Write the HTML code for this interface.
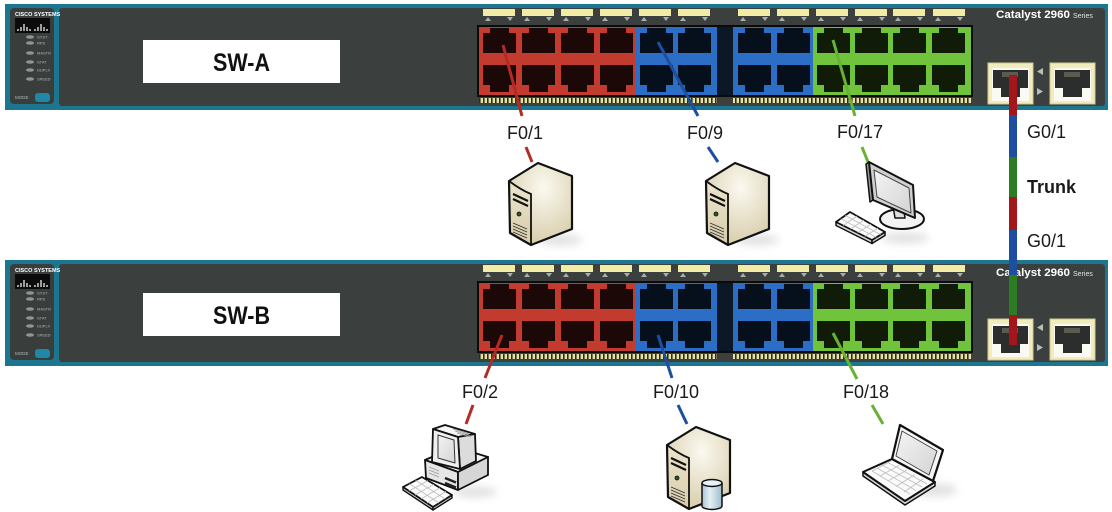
<!DOCTYPE html>
<html><head><meta charset="utf-8"><style>
html,body{margin:0;padding:0;background:#fff;}
svg{display:block}
text{font-family:"Liberation Sans",sans-serif}
</style></head><body>
<svg width="1112" height="512" viewBox="0 0 1112 512" xmlns="http://www.w3.org/2000/svg">
<defs>
 <pattern id="comb" width="4" height="6" patternUnits="userSpaceOnUse"><rect width="4" height="6" fill="#2a2a22"/><rect x="0.6" width="2.4" height="6" fill="#e8e2a2"/></pattern>
 <radialGradient id="srvG" cx="0.55" cy="0.3" r="0.8"><stop offset="0" stop-color="#fbf9f0"/><stop offset="1" stop-color="#d3c8a3"/></radialGradient>
 <linearGradient id="srvF" x1="0" y1="0" x2="0" y2="1"><stop offset="0" stop-color="#ece5cd"/><stop offset="1" stop-color="#d8cdaa"/></linearGradient>
 <linearGradient id="cyl" x1="0" y1="0" x2="1" y2="0"><stop offset="0" stop-color="#a9c4d4"/><stop offset="0.4" stop-color="#e4eff5"/><stop offset="1" stop-color="#9fbccd"/></linearGradient>
 <linearGradient id="scr" x1="0" y1="0" x2="1" y2="1"><stop offset="0" stop-color="#f4f4f4"/><stop offset="1" stop-color="#d4d4d4"/></linearGradient>
 <filter id="blur" x="-50%" y="-50%" width="200%" height="200%"><feGaussianBlur stdDeviation="4"/></filter>
 <path id="pt" d="M7,0H26V5H33V25H0V5H7Z" fill="#000" fill-opacity=".86"/>
 <path id="pb" d="M0,0H33V20H26V27H7V20H0Z" fill="#000" fill-opacity=".86"/>
 <g id="tab">
  <rect x="0" y="5" width="32" height="7" fill="#f1eca3"/>
  <path d="M2,17L5,13L8,17Z M24,13L30,13L27,17Z" fill="#a9aeae"/>
 </g>
 <g id="upl">
  <rect x="0" y="59" width="45" height="41" fill="#f1ecbb" stroke="#cfc894" stroke-width="1"/>
  <rect x="4" y="64" width="37" height="33" fill="#fbfaf2"/>
  <path d="M5,66H40V84H32V93H13V84H5Z" fill="#2c2e2e"/>
  <path d="M15,68v5M17,68v5M19,68v5M21,68v5M23,68v5M25,68v5M27,68v5M29,68v5" stroke="#8a8870" stroke-width="1"/>
 </g>
 <g id="sw">
  <rect x="5" y="0" width="1103" height="106" fill="#1d7690"/>
  <rect x="10" y="4" width="44" height="96" rx="4" fill="#393e3d"/>
  <rect x="59" y="4" width="1046" height="98" rx="3" fill="#3b3f3e"/>
  <rect x="15" y="14" width="35" height="15" fill="#0c0c0c"/>
  <path d="M18,27v-2M21,27v-4M24,27v-7M27,27v-4M30,27v-2M35,27v-2M38,27v-4M41,27v-7M44,27v-4M47,27v-2" stroke="#fff" stroke-width="1.2"/>
  <g fill="#8d9595">
   <ellipse cx="30" cy="33" rx="4" ry="1.8"/><ellipse cx="30" cy="39" rx="4" ry="1.8"/>
   <ellipse cx="30" cy="49" rx="4" ry="1.8"/><ellipse cx="30" cy="58" rx="4" ry="1.8"/>
   <ellipse cx="30" cy="66" rx="4" ry="1.8"/><ellipse cx="30" cy="75" rx="4" ry="1.8"/>
  </g>
  <rect x="35" y="89" width="15" height="9" rx="3" fill="#1f88a6"/>
  <!-- port area -->
  <rect x="477" y="21" width="496" height="72" fill="#0b0b0b"/>
  <rect x="479" y="23" width="156" height="68" fill="#c23b2e"/>
  <rect x="635" y="23" width="82" height="68" fill="#2c6ec6"/>
  <rect x="717" y="23" width="16" height="68" fill="#0c1826"/>
  <rect x="733" y="23" width="80" height="68" fill="#2c6ec6"/>
  <rect x="813" y="23" width="158" height="68" fill="#6fc43c"/>
  <use href="#pt" x="483" y="24"/><use href="#pt" x="522" y="24"/><use href="#pt" x="561" y="24"/><use href="#pt" x="600" y="24"/>
  <use href="#pt" x="640" y="24"/><use href="#pt" x="678" y="24"/><use href="#pt" x="738" y="24"/><use href="#pt" x="777" y="24"/>
  <use href="#pt" x="817" y="24"/><use href="#pt" x="855" y="24"/><use href="#pt" x="893" y="24"/><use href="#pt" x="932" y="24"/>
  <use href="#pb" x="483" y="61"/><use href="#pb" x="522" y="61"/><use href="#pb" x="561" y="61"/><use href="#pb" x="600" y="61"/>
  <use href="#pb" x="640" y="61"/><use href="#pb" x="678" y="61"/><use href="#pb" x="738" y="61"/><use href="#pb" x="777" y="61"/>
  <use href="#pb" x="817" y="61"/><use href="#pb" x="855" y="61"/><use href="#pb" x="893" y="61"/><use href="#pb" x="932" y="61"/>
  <use href="#tab" x="483"/><use href="#tab" x="522"/><use href="#tab" x="561"/><use href="#tab" x="600"/>
  <use href="#tab" x="639"/><use href="#tab" x="678"/><use href="#tab" x="738"/><use href="#tab" x="777"/>
  <use href="#tab" x="816"/><use href="#tab" x="855"/><use href="#tab" x="893"/><use href="#tab" x="933"/>
  <rect x="479" y="94" width="238" height="5" fill="url(#comb)"/>
  <rect x="733" y="94" width="238" height="5" fill="url(#comb)"/>
  <use href="#upl" x="988"/><use href="#upl" x="1050"/>
  <path d="M1043,64L1037,67.5L1043,71Z M1037,84L1043,87.5L1037,91Z" fill="#bcbcbc"/>
 </g>
 <g id="server">
  <polygon points="0,20 29,2 63,15 63,68 22,84 1,72" fill="url(#srvG)"/>
  <polygon points="0,20 22,33 22,84 1,72" fill="url(#srvF)"/>
  <path d="M0,20 Q12,29 22,33 V84" fill="none" stroke="#111" stroke-width="1.8"/>
  <polygon points="0,20 29,2 63,15 63,68 22,84 1,72" fill="none" stroke="#111" stroke-width="2.2" stroke-linejoin="round"/>
  <path d="M4,33 L19,40 M4,38 L19,45" stroke="#111" stroke-width="2.2"/>
  <circle cx="10" cy="53" r="2" fill="#2d5a2d" stroke="#111" stroke-width=".8"/>
  <path d="M4,62 L18,68 M4,65 L18,71 M4,68 L18,74 M4,71 L18,77" stroke="#333" stroke-width=".9"/>
 </g>
</defs>

<!-- Switch A -->
<use href="#sw" y="4"/>
<g transform="translate(0,4)">
 <text x="15" y="12" font-size="5.5" font-weight="bold" fill="#fff">CISCO SYSTEMS</text>
 <g font-size="4" fill="#b0b8b8"><text x="37" y="34.5">SYST</text><text x="37" y="40.5">RPS</text><text x="37" y="50.5">MASTR</text><text x="37" y="59.5">STAT</text><text x="37" y="67.5">DUPLX</text><text x="37" y="76.5">SPEED</text></g>
 <text x="15" y="95" font-size="4.5" fill="#b0b8b8">MODE</text>
 <text x="996" y="14" font-size="11" font-weight="bold" fill="#fff" textLength="74" lengthAdjust="spacingAndGlyphs">Catalyst 2960</text>
 <text x="1073" y="14" font-size="7" fill="#dfe6e8">Series</text>
</g>
<rect x="143" y="40" width="197" height="43" fill="#fff"/>
<text x="241.5" y="71" font-size="25" font-weight="bold" fill="#111" text-anchor="middle" textLength="57" lengthAdjust="spacingAndGlyphs">SW-A</text>

<!-- Switch B -->
<use href="#sw" y="260"/>
<g transform="translate(0,260)">
 <text x="15" y="12" font-size="5.5" font-weight="bold" fill="#fff">CISCO SYSTEMS</text>
 <g font-size="4" fill="#b0b8b8"><text x="37" y="34.5">SYST</text><text x="37" y="40.5">RPS</text><text x="37" y="50.5">MASTR</text><text x="37" y="59.5">STAT</text><text x="37" y="67.5">DUPLX</text><text x="37" y="76.5">SPEED</text></g>
 <text x="15" y="95" font-size="4.5" fill="#b0b8b8">MODE</text>
 <text x="996" y="16" font-size="11" font-weight="bold" fill="#fff" textLength="74" lengthAdjust="spacingAndGlyphs">Catalyst 2960</text>
 <text x="1073" y="16" font-size="7" fill="#dfe6e8">Series</text>
</g>
<rect x="143" y="293" width="197" height="43" fill="#fff"/>
<text x="241.5" y="324" font-size="25" font-weight="bold" fill="#111" text-anchor="middle" textLength="57" lengthAdjust="spacingAndGlyphs">SW-B</text>

<!-- Trunk -->
<g>
 <rect x="1009" y="75" width="8" height="40" fill="#a3161b"/>
 <rect x="1009" y="115" width="8" height="42" fill="#1d4e9f"/>
 <rect x="1009" y="157" width="8" height="40" fill="#2b7c22"/>
 <rect x="1009" y="197" width="8" height="33" fill="#a3161b"/>
 <rect x="1009" y="230" width="8" height="45" fill="#1d4e9f"/>
 <rect x="1009" y="275" width="8" height="40" fill="#2b7c22"/>
 <rect x="1009" y="315" width="8" height="30" fill="#a3161b"/>
</g>
<g font-size="18" fill="#1a1a1a">
 <text x="1027" y="138">G0/1</text>
 <text x="1027" y="193" font-weight="bold">Trunk</text>
 <text x="1027" y="247">G0/1</text>
</g>

<!-- connectors top -->
<g stroke-width="3" fill="none">
 <path d="M503,45L522,116 M526,147L532,162" stroke="#b42a24"/>
 <path d="M658,42L698,116 M708,147L718,162" stroke="#1e4ea0"/>
 <path d="M833,40L855,116 M862,147L868,162" stroke="#67b236"/>
 <path d="M502,335L485,378 M473,405L466,424" stroke="#b42a24"/>
 <path d="M658,335L672,378 M678,405L687,424" stroke="#1e4ea0"/>
 <path d="M833,333L857,379 M872,405L883,424" stroke="#67b236"/>
</g>
<g font-size="18" fill="#1a1a1a">
 <text x="507" y="139">F0/1</text>
 <text x="687" y="139">F0/9</text>
 <text x="837" y="138">F0/17</text>
 <text x="462" y="398">F0/2</text>
 <text x="653" y="398">F0/10</text>
 <text x="843" y="398">F0/18</text>
</g>

<!-- shadows -->
<g fill="#d8d8d8" filter="url(#blur)" opacity=".7">
 <ellipse cx="560" cy="240" rx="22" ry="6"/>
 <ellipse cx="757" cy="240" rx="22" ry="6"/>
 <ellipse cx="905" cy="238" rx="24" ry="6"/>
 <ellipse cx="475" cy="492" rx="22" ry="6"/>
 <ellipse cx="935" cy="490" rx="22" ry="7"/>
</g>

<!-- servers -->
<use href="#server" x="509" y="161"/>
<use href="#server" x="706" y="161"/>
<use href="#server" x="667" y="425"/>
<g transform="translate(667,425)">
 <path d="M35,58 V81 A10,3.5 0 0 0 55,81 V58" fill="url(#cyl)" stroke="#111" stroke-width="1.5"/>
 <ellipse cx="45" cy="58" rx="10" ry="3.5" fill="#e8f1f6" stroke="#111" stroke-width="1.5"/>
</g>

<!-- desktop (flat monitor) -->
<g transform="translate(835,160)" stroke-linejoin="round">
 <ellipse cx="67" cy="59" rx="22" ry="10" fill="#f2f2f2" stroke="#111" stroke-width="2"/>
 <path d="M58,46 L60,58 L70,58 L68,46Z" fill="#ddd" stroke="#111" stroke-width="1.5"/>
 <polygon points="31,4 34,2 38,40 35,42" fill="#9a9a9a" stroke="#111" stroke-width="1.5"/>
 <polygon points="34,2 78,25 80,58 38,40" fill="#cfcfcf" stroke="#111" stroke-width="2"/>
 <polygon points="39,10 74,28 76,53 42,37" fill="url(#scr)" stroke="#444" stroke-width="1"/>
 <polygon points="1,62 1,65.5 37,83.5 37,80" fill="#ddd" stroke="#111" stroke-width="1.5"/>
 <polygon points="37,80 50,72 50,75.5 37,83.5" fill="#ccc" stroke="#111" stroke-width="1.5"/>
 <polygon points="1,62 15,52 50,72 37,80" fill="#fbfbfb" stroke="#111" stroke-width="1.8"/>
 <path d="M5.6,58.7L41.3,77.4M10.2,55.4L45.6,74.7M8.2,65.6L22,56M15.4,69.2L29,60M22.6,72.8L36,64M29.8,76.4L43,68" stroke="#bbb" stroke-width=".8"/>
</g>

<!-- old PC -->
<g transform="translate(403,425)" stroke-linejoin="round">
 <polygon points="22,35 52,22 85,32 55,47" fill="#f4f4f4" stroke="#111" stroke-width="1.8"/>
 <polygon points="22,35 55,47 55,65 23,53" fill="#e6e6e6" stroke="#111" stroke-width="1.8"/>
 <polygon points="55,47 85,32 85,50 55,65" fill="#d6d6d6" stroke="#111" stroke-width="1.8"/>
 <path d="M42,53L53,57.5M42,58L53,62.5" stroke="#222" stroke-width="2.5"/>
 <path d="M26,42L36,46M26,45L36,49M26,48L36,52" stroke="#999" stroke-width=".8"/>
 <polygon points="30,4 42,0 72,9 55,12" fill="#f6f6f6" stroke="#111" stroke-width="1.8"/>
 <polygon points="55,12 72,9 73,36 57,44" fill="#dcdcdc" stroke="#111" stroke-width="1.8"/>
 <path d="M50,4L66,9M52,6L67,10.5M54,8L68,12" stroke="#999" stroke-width=".8"/>
 <polygon points="30,4 55,12 57,44 29,37" fill="#efefef" stroke="#111" stroke-width="1.8"/>
 <polygon points="35,10 51,15 52,38 35,33" fill="url(#scr)" stroke="#333" stroke-width="1"/>
 <polygon points="0,62 0,65 30,85 30,82" fill="#ddd" stroke="#111" stroke-width="1.4"/>
 <polygon points="30,82 49,70 49,73 30,85" fill="#ccc" stroke="#111" stroke-width="1.4"/>
 <polygon points="0,62 19,52 49,70 30,82" fill="#fbfbfb" stroke="#111" stroke-width="1.8"/>
 <path d="M6.3,58.7L36,78M12.6,55.3L42.3,74M6,66L25,55.6M12,70L31,59.2M18,74L37,62.8M24,78L43,66.4" stroke="#bbb" stroke-width=".8"/>
</g>

<!-- laptop -->
<g transform="translate(860,425)" stroke-linejoin="round">
 <polygon points="3,47 3,51 45,80 75,61 75,57 45,76" fill="#d8d8d8" stroke="#111" stroke-width="1.5"/>
 <polygon points="32,34 75,57 45,76 3,47" fill="#fafafa" stroke="#111" stroke-width="2"/>
 <path d="M12,46L50,69M17,43L56,65.5M22,40L62,62M27,37L67,59M12,46L31,36M20,51L39,40.5M28,56L47,45M36,61.5L55,49.5M44,67L63,54" stroke="#bdbdbd" stroke-width=".8"/>
 <polygon points="40,0 83,25 73,56 32,34" fill="#f6f6f6" stroke="#111" stroke-width="2.2"/>
 <polygon points="42,6 77,26 69,50 36,31" fill="url(#scr)" stroke="#444" stroke-width="1"/>
</g>
</svg>
</body></html>
